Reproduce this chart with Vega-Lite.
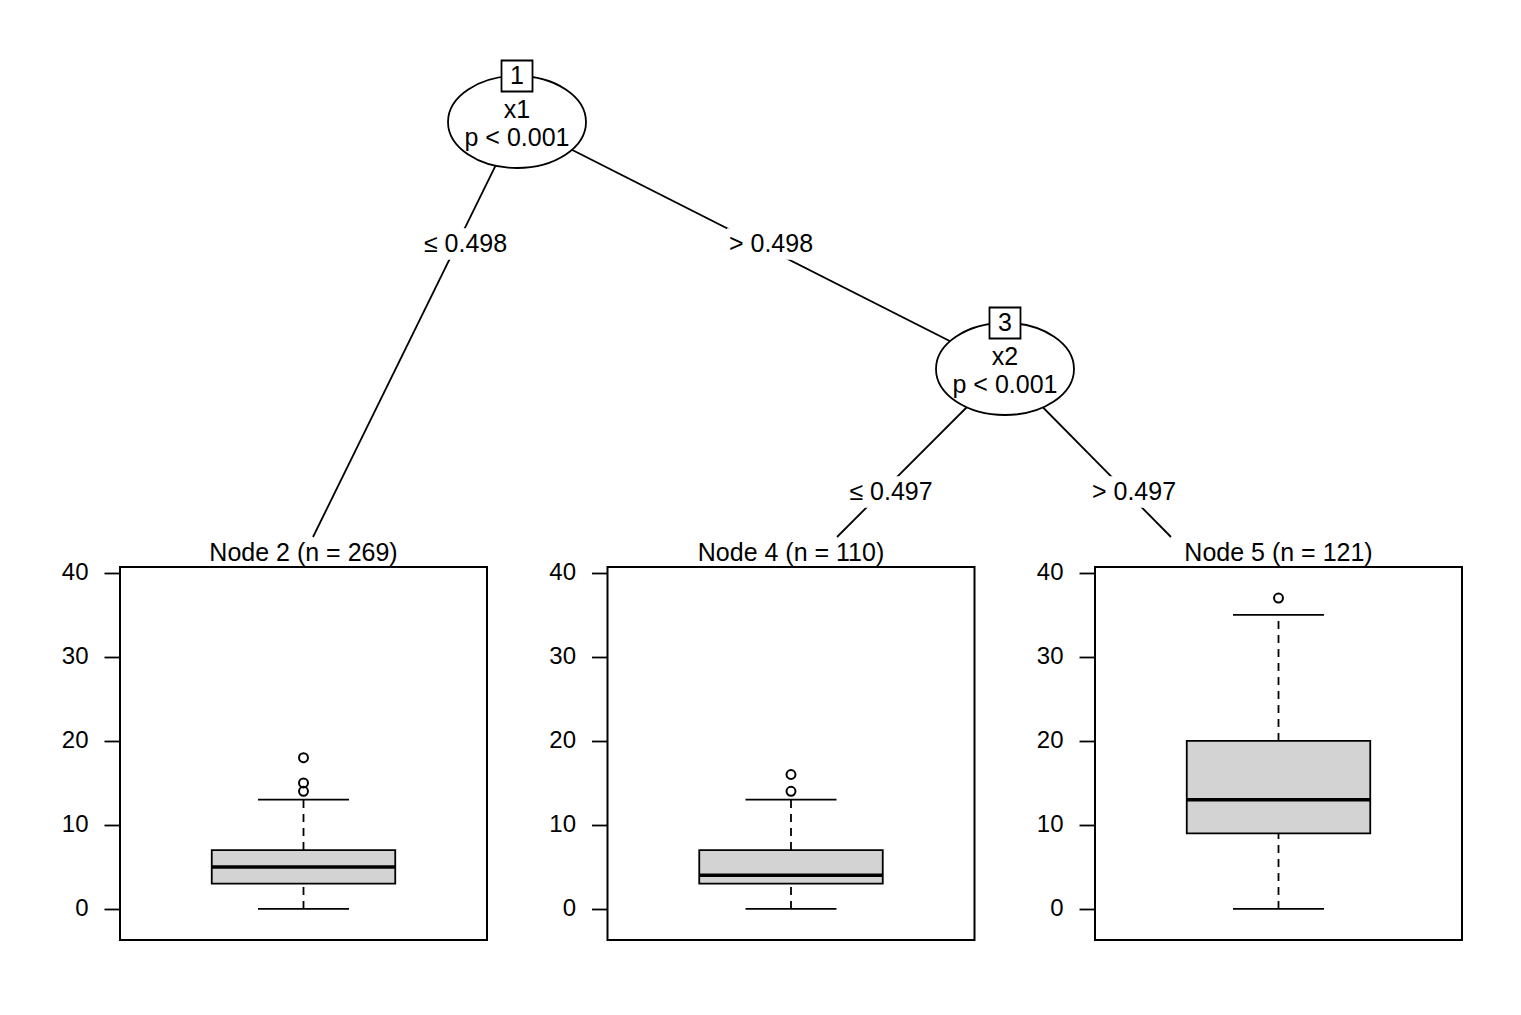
{
  "$schema": "https://vega.github.io/schema/vega-lite/v6.json",
  "padding": {"left": 60, "top": 40, "right": 5, "bottom": 5},
  "bounds": "flush",
  "spacing": 27,
  "config": {
    "font": "Liberation Sans",
    "view": {"stroke": "black", "strokeWidth": 2},
    "axisY": {"domain": false, "grid": false, "tickSize": 16, "tickWidth": 1.8, "tickColor": "black", "labelPadding": 16, "labelFontSize": 24, "labelColor": "black", "labelFont": "Liberation Sans"},
    "title": {"fontSize": 25, "fontWeight": "normal", "color": "black", "anchor": "middle", "frame": "group", "baseline": "alphabetic", "offset": -5, "font": "Liberation Sans"},
    "text": {"font": "Liberation Sans", "fontSize": 25, "color": "black"}
  },
  "datasets": {
    "nodes": [
      {"id": 1, "variable": "x1", "p": "p < 0.001", "x": 0.29583, "y": 0.164},
      {"id": 3, "variable": "x2", "p": "p < 0.001", "x": 0.65946, "y": 0.658}
    ],
    "edges": [
      {"from": 1, "to": 2, "x": 0.29583, "y": 0.164, "x2": 0.14382, "y2": 0.994},
      {"from": 1, "to": 3, "x": 0.29583, "y": 0.164, "x2": 0.65946, "y2": 0.658},
      {"from": 3, "to": 4, "x": 0.65946, "y": 0.658, "x2": 0.53428, "y2": 0.994},
      {"from": 3, "to": 5, "x": 0.65946, "y": 0.658, "x2": 0.78316, "y2": 0.994}
    ],
    "edgeLabels": [
      {"label": "≤ 0.498", "x": 0.25745, "y": 0.408},
      {"label": "> 0.498", "x": 0.4851, "y": 0.408},
      {"label": "≤ 0.497", "x": 0.57452, "y": 0.904},
      {"label": "> 0.497", "x": 0.75559, "y": 0.904}
    ],
    "stats": [
      {"node": 2, "lower": 0, "q1": 3, "median": 5, "q3": 7, "upper": 13},
      {"node": 4, "lower": 0, "q1": 3, "median": 4, "q3": 7, "upper": 13},
      {"node": 5, "lower": 0, "q1": 9, "median": 13, "q3": 20, "upper": 35}
    ],
    "outliers": [
      {"node": 2, "value": 14},
      {"node": 2, "value": 15},
      {"node": 2, "value": 18},
      {"node": 4, "value": 14},
      {"node": 4, "value": 16},
      {"node": 5, "value": 37}
    ]
  },
  "vconcat": [
    {
      "width": 1342,
      "height": 500,
      "view": {"stroke": null},
      "encoding": {
        "x": {"field": "x", "type": "quantitative", "axis": null, "scale": {"domain": [0, 1], "nice": false, "zero": false}},
        "y": {"field": "y", "type": "quantitative", "axis": null, "scale": {"domain": [0, 1], "nice": false, "zero": false, "reverse": true}}
      },
      "layer": [
        {
          "data": {"name": "edges"},
          "mark": {"type": "rule", "color": "black", "strokeWidth": 1.8},
          "encoding": {"x2": {"field": "x2"}, "y2": {"field": "y2"}}
        },
        {
          "data": {"name": "edgeLabels"},
          "mark": {"type": "point", "shape": "M-1,-0.36L1,-0.36L1,0.36L-1,0.36Z", "size": 7744, "filled": true, "fill": "white", "strokeWidth": 0, "opacity": 1}
        },
        {
          "data": {"name": "edgeLabels"},
          "mark": {"type": "text", "align": "center", "baseline": "middle", "fontSize": 25},
          "encoding": {"text": {"field": "label"}}
        },
        {
          "data": {"name": "nodes"},
          "mark": {"type": "point", "shape": "M1,0C1,0.3684 0.5523,0.667 0,0.667C-0.5523,0.667 -1,0.3684 -1,0C-1,-0.3684 -0.5523,-0.667 0,-0.667C0.5523,-0.667 1,-0.3684 1,0Z", "size": 19044, "filled": true, "fill": "white", "stroke": "black", "strokeWidth": 1.8, "opacity": 1}
        },
        {
          "data": {"name": "nodes"},
          "mark": {"type": "point", "shape": "square", "size": 961, "filled": true, "fill": "white", "stroke": "black", "strokeWidth": 1.8, "opacity": 1, "yOffset": -46}
        },
        {
          "data": {"name": "nodes"},
          "mark": {"type": "text", "align": "center", "baseline": "middle", "fontSize": 25, "yOffset": -46},
          "encoding": {"text": {"field": "id", "type": "nominal"}}
        },
        {
          "data": {"name": "nodes"},
          "mark": {"type": "text", "align": "center", "baseline": "middle", "fontSize": 25, "yOffset": -12},
          "encoding": {"text": {"field": "variable"}}
        },
        {
          "data": {"name": "nodes"},
          "mark": {"type": "text", "align": "center", "baseline": "middle", "fontSize": 25, "yOffset": 16},
          "encoding": {"text": {"field": "p"}}
        }
      ]
    },
    {
      "hconcat": [
        {
          "width": 367, "height": 373,
          "title": {"text": "Node 2 (n = 269)"},
          "data": {"name": "stats"},
          "transform": [{"filter": "datum.node == 2"}],
          "encoding": {"x": {"field": "node", "type": "nominal", "axis": null, "scale": {"type": "band", "paddingInner": 0, "paddingOuter": 0.5}}},
          "layer": [
            {"mark": {"type": "rule", "strokeDash": [8, 6], "strokeWidth": 1.8, "color": "black"}, "encoding": {"y": {"field": "q3", "type": "quantitative", "title": null, "scale": {"domain": [-3.7, 40.7], "nice": false, "zero": false}, "axis": {"values": [0, 10, 20, 30, 40]}}, "y2": {"field": "upper"}}},
            {"mark": {"type": "rule", "strokeDash": [8, 6], "strokeWidth": 1.8, "color": "black"}, "encoding": {"y": {"field": "lower", "type": "quantitative", "title": null, "scale": {"domain": [-3.7, 40.7], "nice": false, "zero": false}, "axis": {"values": [0, 10, 20, 30, 40]}}, "y2": {"field": "q1"}}},
            {"mark": {"type": "tick", "size": 91, "thickness": 1.8, "color": "black", "opacity": 1}, "encoding": {"y": {"field": "upper", "type": "quantitative", "title": null, "scale": {"domain": [-3.7, 40.7], "nice": false, "zero": false}, "axis": {"values": [0, 10, 20, 30, 40]}}}},
            {"mark": {"type": "tick", "size": 91, "thickness": 1.8, "color": "black", "opacity": 1}, "encoding": {"y": {"field": "lower", "type": "quantitative", "title": null, "scale": {"domain": [-3.7, 40.7], "nice": false, "zero": false}, "axis": {"values": [0, 10, 20, 30, 40]}}}},
            {"mark": {"type": "bar", "fill": "#d3d3d3", "stroke": "black", "strokeWidth": 1.8, "opacity": 1}, "encoding": {"y": {"field": "q1", "type": "quantitative", "title": null, "scale": {"domain": [-3.7, 40.7], "nice": false, "zero": false}, "axis": {"values": [0, 10, 20, 30, 40]}}, "y2": {"field": "q3"}}},
            {"mark": {"type": "tick", "size": 184, "thickness": 3.5, "color": "black", "opacity": 1}, "encoding": {"y": {"field": "median", "type": "quantitative", "title": null, "scale": {"domain": [-3.7, 40.7], "nice": false, "zero": false}, "axis": {"values": [0, 10, 20, 30, 40]}}}},
            {"data": {"name": "outliers"}, "transform": [{"filter": "datum.node == 2"}], "mark": {"type": "point", "shape": "circle", "filled": false, "color": "black", "size": 80, "strokeWidth": 2, "opacity": 1}, "encoding": {"y": {"field": "value", "type": "quantitative", "title": null, "scale": {"domain": [-3.7, 40.7], "nice": false, "zero": false}, "axis": {"values": [0, 10, 20, 30, 40]}}}}
          ]
        },
        {
          "width": 367, "height": 373,
          "title": {"text": "Node 4 (n = 110)"},
          "data": {"name": "stats"},
          "transform": [{"filter": "datum.node == 4"}],
          "encoding": {"x": {"field": "node", "type": "nominal", "axis": null, "scale": {"type": "band", "paddingInner": 0, "paddingOuter": 0.5}}},
          "layer": [
            {"mark": {"type": "rule", "strokeDash": [8, 6], "strokeWidth": 1.8, "color": "black"}, "encoding": {"y": {"field": "q3", "type": "quantitative", "title": null, "scale": {"domain": [-3.7, 40.7], "nice": false, "zero": false}, "axis": {"values": [0, 10, 20, 30, 40]}}, "y2": {"field": "upper"}}},
            {"mark": {"type": "rule", "strokeDash": [8, 6], "strokeWidth": 1.8, "color": "black"}, "encoding": {"y": {"field": "lower", "type": "quantitative", "title": null, "scale": {"domain": [-3.7, 40.7], "nice": false, "zero": false}, "axis": {"values": [0, 10, 20, 30, 40]}}, "y2": {"field": "q1"}}},
            {"mark": {"type": "tick", "size": 91, "thickness": 1.8, "color": "black", "opacity": 1}, "encoding": {"y": {"field": "upper", "type": "quantitative", "title": null, "scale": {"domain": [-3.7, 40.7], "nice": false, "zero": false}, "axis": {"values": [0, 10, 20, 30, 40]}}}},
            {"mark": {"type": "tick", "size": 91, "thickness": 1.8, "color": "black", "opacity": 1}, "encoding": {"y": {"field": "lower", "type": "quantitative", "title": null, "scale": {"domain": [-3.7, 40.7], "nice": false, "zero": false}, "axis": {"values": [0, 10, 20, 30, 40]}}}},
            {"mark": {"type": "bar", "fill": "#d3d3d3", "stroke": "black", "strokeWidth": 1.8, "opacity": 1}, "encoding": {"y": {"field": "q1", "type": "quantitative", "title": null, "scale": {"domain": [-3.7, 40.7], "nice": false, "zero": false}, "axis": {"values": [0, 10, 20, 30, 40]}}, "y2": {"field": "q3"}}},
            {"mark": {"type": "tick", "size": 184, "thickness": 3.5, "color": "black", "opacity": 1}, "encoding": {"y": {"field": "median", "type": "quantitative", "title": null, "scale": {"domain": [-3.7, 40.7], "nice": false, "zero": false}, "axis": {"values": [0, 10, 20, 30, 40]}}}},
            {"data": {"name": "outliers"}, "transform": [{"filter": "datum.node == 4"}], "mark": {"type": "point", "shape": "circle", "filled": false, "color": "black", "size": 80, "strokeWidth": 2, "opacity": 1}, "encoding": {"y": {"field": "value", "type": "quantitative", "title": null, "scale": {"domain": [-3.7, 40.7], "nice": false, "zero": false}, "axis": {"values": [0, 10, 20, 30, 40]}}}}
          ]
        },
        {
          "width": 367, "height": 373,
          "title": {"text": "Node 5 (n = 121)"},
          "data": {"name": "stats"},
          "transform": [{"filter": "datum.node == 5"}],
          "encoding": {"x": {"field": "node", "type": "nominal", "axis": null, "scale": {"type": "band", "paddingInner": 0, "paddingOuter": 0.5}}},
          "layer": [
            {"mark": {"type": "rule", "strokeDash": [8, 6], "strokeWidth": 1.8, "color": "black"}, "encoding": {"y": {"field": "q3", "type": "quantitative", "title": null, "scale": {"domain": [-3.7, 40.7], "nice": false, "zero": false}, "axis": {"values": [0, 10, 20, 30, 40]}}, "y2": {"field": "upper"}}},
            {"mark": {"type": "rule", "strokeDash": [8, 6], "strokeWidth": 1.8, "color": "black"}, "encoding": {"y": {"field": "lower", "type": "quantitative", "title": null, "scale": {"domain": [-3.7, 40.7], "nice": false, "zero": false}, "axis": {"values": [0, 10, 20, 30, 40]}}, "y2": {"field": "q1"}}},
            {"mark": {"type": "tick", "size": 91, "thickness": 1.8, "color": "black", "opacity": 1}, "encoding": {"y": {"field": "upper", "type": "quantitative", "title": null, "scale": {"domain": [-3.7, 40.7], "nice": false, "zero": false}, "axis": {"values": [0, 10, 20, 30, 40]}}}},
            {"mark": {"type": "tick", "size": 91, "thickness": 1.8, "color": "black", "opacity": 1}, "encoding": {"y": {"field": "lower", "type": "quantitative", "title": null, "scale": {"domain": [-3.7, 40.7], "nice": false, "zero": false}, "axis": {"values": [0, 10, 20, 30, 40]}}}},
            {"mark": {"type": "bar", "fill": "#d3d3d3", "stroke": "black", "strokeWidth": 1.8, "opacity": 1}, "encoding": {"y": {"field": "q1", "type": "quantitative", "title": null, "scale": {"domain": [-3.7, 40.7], "nice": false, "zero": false}, "axis": {"values": [0, 10, 20, 30, 40]}}, "y2": {"field": "q3"}}},
            {"mark": {"type": "tick", "size": 184, "thickness": 3.5, "color": "black", "opacity": 1}, "encoding": {"y": {"field": "median", "type": "quantitative", "title": null, "scale": {"domain": [-3.7, 40.7], "nice": false, "zero": false}, "axis": {"values": [0, 10, 20, 30, 40]}}}},
            {"data": {"name": "outliers"}, "transform": [{"filter": "datum.node == 5"}], "mark": {"type": "point", "shape": "circle", "filled": false, "color": "black", "size": 80, "strokeWidth": 2, "opacity": 1}, "encoding": {"y": {"field": "value", "type": "quantitative", "title": null, "scale": {"domain": [-3.7, 40.7], "nice": false, "zero": false}, "axis": {"values": [0, 10, 20, 30, 40]}}}}
          ]
        }
      ],
      "spacing": 120.5,
      "bounds": "flush"
    }
  ]
}
